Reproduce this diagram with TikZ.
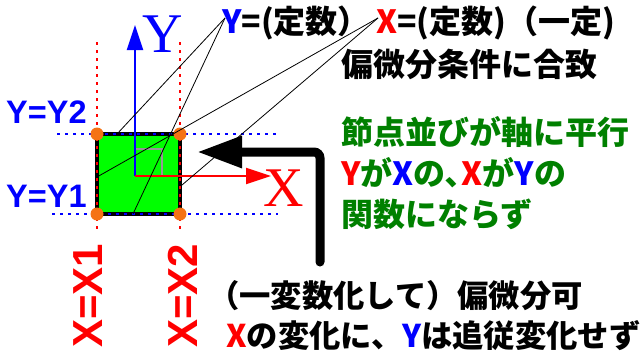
\documentclass[tikz,border=0pt]{standalone}
\usepackage{fontspec}
\usetikzlibrary{arrows.meta}
\newfontfamily\jp{Noto Sans CJK JP}
\newfontfamily\arl{Liberation Sans}
\newfontfamily\tms{Liberation Serif}
\definecolor{cblue}{RGB}{0,0,255}
\definecolor{cred}{RGB}{255,0,0}
\definecolor{cgreen}{RGB}{0,128,0}
\definecolor{cfill}{RGB}{0,255,0}
\definecolor{corange}{RGB}{245,115,20}
\definecolor{cgray}{RGB}{150,150,150}
\tikzset{
  jptext/.style={inner sep=0pt, anchor=west, font=\jp\bfseries\fontsize{32}{36}\selectfont},
  jpsmall/.style={inner sep=0pt, anchor=west, font=\jp\bfseries\fontsize{31.3}{36}\selectfont},
  eqlabel/.style={inner sep=0pt, text=cblue, font=\arl\bfseries\fontsize{32.5}{36}\selectfont},
  vlabel/.style={inner sep=0pt, text=cred, rotate=90, font=\arl\bfseries\fontsize{42}{46}\selectfont},
  axlabel/.style={inner sep=0pt, font=\tms\fontsize{56}{60}\selectfont},
  reddot/.style={cred, line width=2pt, dash pattern=on 2.5pt off 5.5pt},
  bluedot/.style={cblue, line width=2pt, dash pattern=on 2.5pt off 5.5pt},
  callout/.style={black, line width=0.8pt},
  corner/.style={circle, fill=corange, inner sep=0pt, minimum size=13pt},
}
\begin{document}
\begin{tikzpicture}[x=1pt,y=-1pt]
\path[use as bounding box] (0,0) rectangle (643,356);

% square
\coordinate (tl) at (97,134);
\coordinate (tr) at (180,134);
\coordinate (bl) at (97,214);
\coordinate (br) at (180,214);
\fill[cfill] (tl) rectangle (br);
\draw[black, line width=4pt] (tl) rectangle (br);

% dotted guide lines
\coordinate (v1a) at (97,42);  \coordinate (v1b) at (97,230);
\coordinate (v2a) at (180,42); \coordinate (v2b) at (180,230);
\coordinate (h2a) at (57,134); \coordinate (h2b) at (280,134);
\coordinate (h1a) at (52,214); \coordinate (h1b) at (278,214);
\draw[reddot] (v1a) -- (v1b);
\draw[reddot] (v2a) -- (v2b);
\draw[bluedot] (h2a) -- (h2b);
\draw[bluedot] (h1a) -- (h1b);

% gray corner mark
\coordinate (g1) at (136,149);
\coordinate (g2) at (162,149);
\coordinate (g3) at (162,176);
\draw[cgray, line width=2pt] (g1) -- (g2) -- (g3);

% axes
\coordinate (o) at (135,176);
\coordinate (ytip) at (135,25);
\coordinate (xtip) at (271,176);
\draw[cblue, line width=2pt, -{Triangle[length=25pt,width=16pt]}] (o) -- (ytip);
\draw[cred, line width=2pt, -{Triangle[length=25pt,width=16pt]}] (o) -- (xtip);
\node[axlabel, text=cblue] (ylab) at (163,34) {Y};
\node[axlabel, text=cred] (xlab) at (284,188) {X};

% corner dots
\node[corner] (c1) at (tl) {};
\node[corner] (c2) at (tr) {};
\node[corner] (c3) at (bl) {};
\node[corner] (c4) at (br) {};

% callout lines
\coordinate (py) at (225,18);
\coordinate (px) at (378,18);
\coordinate (e1) at (117,134);
\coordinate (e2) at (133,214);
\coordinate (e3) at (97,177);
\coordinate (e4) at (182,185);
\draw[callout] (py) -- (e1);
\draw[callout] (py) -- (e2);
\draw[callout] (px) -- (e3);
\draw[callout] (px) -- (e4);

% big black arrow
\coordinate (ba) at (320,262);
\coordinate (bb) at (320,152);
\coordinate (bc) at (197,152);
\draw[black, line width=9pt, line cap=round, rounded corners=6pt, -{Triangle[length=45pt,width=30pt]}] (ba) -- (bb) -- (bc);

% labels
\node[eqlabel, anchor=west] (ly2) at (6,112) {Y=Y2};
\node[eqlabel, anchor=west] (ly1) at (6,196) {Y=Y1};
\node[vlabel] (lx1) at (88,296) {X=X1};
\node[vlabel] (lx2) at (183,296) {X=X2};

% texts
\node[jptext] (t1a) at (222,23) {{\color{cblue}Y}=(定数）};
\node[jptext] (t1b) at (376,23) {{\color{cred}X}=(定数)（一定)};
\node[jptext] (t2) at (341,64) {偏微分条件に合致};
\node[jptext, text=cgreen] (g1t) at (341,132) {節点並びが軸に平行};
\node[jptext, text=cgreen] (g2t) at (341,173) {{\color{cred}Y}が{\color{cblue}X}の､{\color{cred}X}が{\color{cblue}Y}の};
\node[jptext, text=cgreen] (g3t) at (341,214) {関数にならず};
\node[jpsmall] (b1) at (208,296) {（一変数化して）偏微分可};
\node[jpsmall] (b2) at (226,336) {{\color{cred}X}の変化に、{\color{cblue}Y}は追従変化せず};
\end{tikzpicture}
\end{document}
